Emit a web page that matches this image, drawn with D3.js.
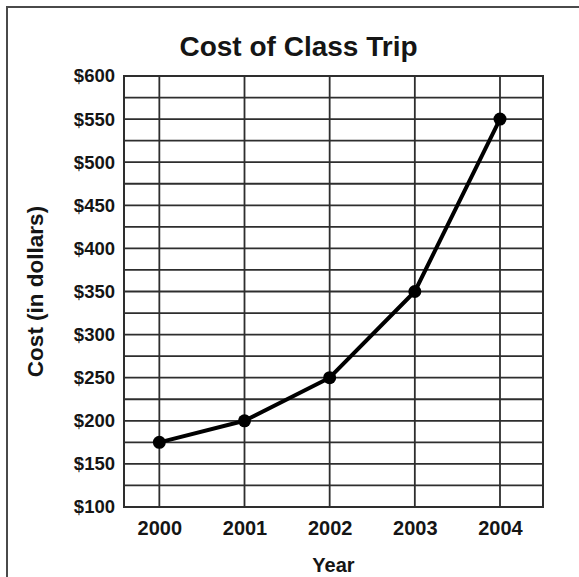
<!DOCTYPE html>
<html>
<head>
<meta charset="utf-8">
<script src="https://cdn.jsdelivr.net/npm/d3@7"></script>
<style>
  html, body { margin: 0; padding: 0; background: #fff; }
  svg { display: block; }
  text { font-family: "Liberation Sans", Arial, Helvetica, sans-serif; font-weight: bold; fill: #151515; }
</style>
</head>
<body>
<svg id="chart" width="579" height="577"></svg>
<script>
// Cost of the class trip per year
const years = [2000, 2001, 2002, 2003, 2004];
const costs = [175, 200, 250, 350, 550];
const costTicks = [100, 150, 200, 250, 300, 350, 400, 450, 500, 550, 600];
const gridStep = 25;

const W = 579, H = 577;
const plot = { left: 124, right: 543, top: 76, bottom: 507 };

const svg = d3.select("#chart");

// frame around the whole figure
svg.append("rect")
  .attr("x", 7).attr("y", 7)
  .attr("width", W + 10).attr("height", H + 10)
  .attr("fill", "none")
  .attr("stroke", "#4a4a4a")
  .attr("stroke-width", 2);

const x = d3.scaleLinear().domain([1999.585, 2004.505]).range([plot.left, plot.right]);
const y = d3.scaleLinear().domain([100, 600]).range([plot.bottom, plot.top]);

// horizontal grid every $25
const hGrid = d3.range(costTicks[0], costTicks[costTicks.length - 1] + 1, gridStep);
svg.append("g").selectAll("line").data(hGrid).join("line")
  .attr("x1", plot.left).attr("x2", plot.right)
  .attr("y1", d => y(d)).attr("y2", d => y(d))
  .attr("stroke", "#2e2e2e").attr("stroke-width", 1.8);

// vertical grid at each year
svg.append("g").selectAll("line").data(years).join("line")
  .attr("x1", d => x(d)).attr("x2", d => x(d))
  .attr("y1", plot.top).attr("y2", plot.bottom)
  .attr("stroke", "#2e2e2e").attr("stroke-width", 1.8);

// plot border
svg.append("rect")
  .attr("x", plot.left).attr("y", plot.top)
  .attr("width", plot.right - plot.left).attr("height", plot.bottom - plot.top)
  .attr("fill", "none").attr("stroke", "#2e2e2e").attr("stroke-width", 2);

// y axis labels
const yAxis = d3.axisLeft(y).tickValues(costTicks).tickSize(0).tickPadding(9)
  .tickFormat(d => "$" + d);
const gy = svg.append("g").attr("transform", `translate(${plot.left},0)`).call(yAxis);
gy.select(".domain").remove();
gy.selectAll("text").style("font-size", "18.5px").attr("fill", "#151515");

// x axis labels
const xAxis = d3.axisBottom(x).tickValues(years).tickSize(0).tickPadding(14)
  .tickFormat(d3.format("d"));
const gx = svg.append("g").attr("transform", `translate(0,${plot.bottom})`).call(xAxis);
gx.select(".domain").remove();
gx.selectAll("text").style("font-size", "20px").attr("fill", "#151515");

// cost line
const line = d3.line().x((d, i) => x(years[i])).y(d => y(d));
svg.append("path").datum(costs)
  .attr("d", line)
  .attr("fill", "none")
  .attr("stroke", "#000")
  .attr("stroke-width", 4)
  .attr("stroke-linejoin", "round");

svg.append("g").selectAll("circle").data(costs).join("circle")
  .attr("cx", (d, i) => x(years[i]))
  .attr("cy", d => y(d))
  .attr("r", 6.5)
  .attr("fill", "#000");

// title and axis titles
svg.append("text")
  .attr("x", (plot.left + plot.right) / 2 - 35).attr("y", 56)
  .attr("text-anchor", "middle")
  .style("font-size", "28px")
  .text("Cost of Class Trip");

svg.append("text")
  .attr("x", (plot.left + plot.right) / 2).attr("y", 572)
  .attr("text-anchor", "middle")
  .style("font-size", "20px")
  .text("Year");

svg.append("text")
  .attr("transform", `translate(43,${(plot.top + plot.bottom) / 2}) rotate(-90)`)
  .attr("text-anchor", "middle")
  .style("font-size", "22.5px")
  .text("Cost (in dollars)");
</script>
</body>
</html>
